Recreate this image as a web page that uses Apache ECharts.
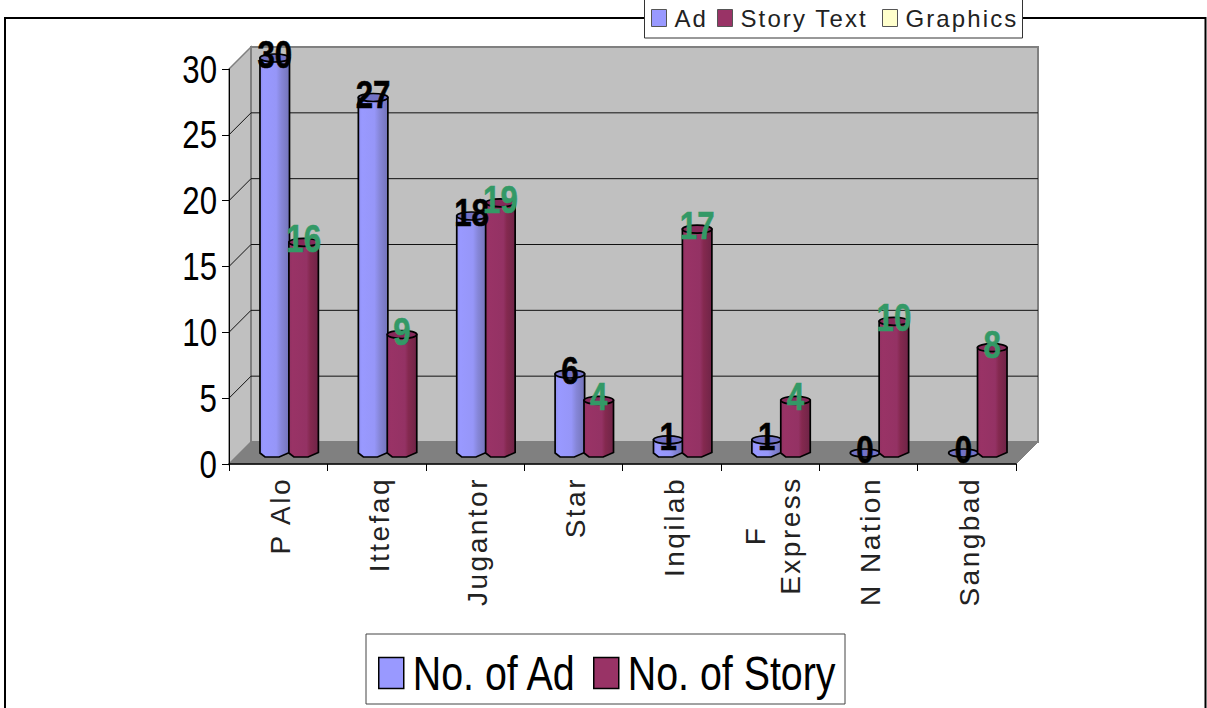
<!DOCTYPE html>
<html>
<head>
<meta charset="utf-8">
<style>
html,body{margin:0;padding:0;background:#fff;overflow:hidden}
#c{width:1207px;height:708px}
svg text[style*="28px"]{letter-spacing:2.5px}
svg text[style*="24px"]{letter-spacing:2.1px}
</style>
<script src="https://cdn.jsdelivr.net/npm/echarts@6/dist/echarts.min.js"></script>
</head>
<body>
<div id="c"></div>
<script>
const categories = ['P Alo','Ittefaq','Jugantor','Star','Inqilab','F\nExpress','N Nation','Sangbad'];
const adValues = [30,27,18,6,1,1,0,0];
const storyValues = [16,9,19,4,17,4,10,8];
const yTicks = [0,5,10,15,20,25,30];
const topLegendNames = ['Ad','Story Text','Graphics'];
const topLegendColors = ['#9999ff','#993366','#ffffcc'];
const bottomLegendNames = ['No. of Ad','No. of Story'];

const chart = echarts.init(document.getElementById('c'), null, {renderer:'svg'});
const DX = 22, DY = 22;     // depth of the 3D box
const BX = 11, BY = 11;     // bars stand mid-depth
const BAR_W = 29.5, RY = 4;
const SANS = '"Liberation Sans",sans-serif';

function renderWalls(params, api){
  const g = params.coordSys;
  const x0=g.x, x1=g.x+g.width, yB=g.y+g.height, yT=g.y;
  const children = [
    {type:'polygon',shape:{points:[[x0,yT],[x0+DX,yT-DY],[x0+DX,yB-DY],[x0,yB]]},style:{fill:'#c0c0c0',stroke:'#808080',lineWidth:1.5}},
    {type:'rect',shape:{x:x0+DX,y:yT-DY,width:g.width,height:g.height},style:{fill:'#c0c0c0',stroke:'#808080',lineWidth:2}},
    {type:'polygon',shape:{points:[[x0,yB],[x1,yB],[x1+DX,yB-DY],[x0+DX,yB-DY]]},style:{fill:'#808080',stroke:'#808080',lineWidth:1}}
  ];
  yTicks.forEach(v=>{
    if(v===0||v===30) return;
    const y = api.coord([0,v])[1];
    children.push({type:'polyline',shape:{points:[[x0,y],[x0+DX,y-DY],[x1+DX,y-DY]]},style:{fill:null,stroke:'#111',lineWidth:1}});
  });
  return {type:'group',children};
}

function makeBar(side, stops, topFill, labelColor){
  return function(params, api){
    const idx = api.value(0), val = api.value(1);
    const base = api.coord([idx,0]), top = api.coord([idx,val]);
    const cx = base[0] + BX + side*BAR_W/2 - side*0.3;
    const w = BAR_W/2;
    const yb = base[1]-BY, yt = top[1]-BY;
    const children = [];
    if(val>0){
      children.push({type:'polygon',
        shape:{points:[[cx-w,yt],[cx-w,yb],[cx-w*0.66,yb+RY],[cx+w*0.3,yb+RY],[cx+w,yb-0.5],[cx+w,yt]]},
        style:{fill:new echarts.graphic.LinearGradient(0,0,1,0,stops),stroke:'#000',lineWidth:1.7}});
    }
    children.push({type:'ellipse',shape:{cx,cy:yt,rx:w,ry:RY},style:{fill:topFill,stroke:'#000',lineWidth:1.7}});
    children.push({type:'text',z2:100,style:{text:String(val),x:cx,y:yt-3.5,align:'center',verticalAlign:'middle',
      font:'bold 39px '+SANS,fill:labelColor,stroke:labelColor,lineWidth:0.6}});
    return {type:'group',children};
  };
}

const adStops=[{offset:0,color:'#8f8ff0'},{offset:.12,color:'#9999ff'},{offset:.55,color:'#9696f8'},{offset:.72,color:'#8686d8'},{offset:1,color:'#7373b8'}];
const storyStops=[{offset:0,color:'#923162'},{offset:.12,color:'#993366'},{offset:.6,color:'#943264'},{offset:.72,color:'#84294f'},{offset:1,color:'#6f2447'}];

const topLeft = [651,717,882];
const bottomLeft = [378,593];

const legends = [];
bottomLegendNames.forEach((n,i)=>legends.push({show:true,left:bottomLeft[i],top:649,data:[n],icon:'rect',
  itemWidth:25,itemHeight:31,padding:0,
  itemStyle:{borderColor:'#000',borderWidth:1.5},
  textStyle:{fontFamily:SANS,fontSize:48,color:'#000',padding:[0,0,0,4]},z:6}));
topLegendNames.forEach((n,i)=>legends.push({show:true,left:topLeft[i],top:6,data:[n],icon:'rect',
  itemWidth:15,itemHeight:17,padding:0,
  itemStyle:{borderColor:'#555',borderWidth:1},
  textStyle:{fontFamily:SANS,fontSize:24,color:'#222',padding:[0,0,0,3]},z:6}));

const option = {
  animation:false,
  backgroundColor:'#fff',
  graphic:[
    {type:'rect',z:-5,silent:true,shape:{x:5,y:18,width:1200.5,height:720},style:{fill:'#fff',stroke:'#000',lineWidth:2}},
    {type:'rect',z:-4,silent:true,shape:{x:644.5,y:-2,width:378,height:40},style:{fill:'#fff',stroke:'#333',lineWidth:1}},
    {type:'rect',z:-4,silent:true,shape:{x:366,y:634,width:479,height:70},style:{fill:'#fff',stroke:'#444',lineWidth:1}}
  ],
  grid:{left:229,top:69,width:787,height:395},
  xAxis:{type:'category',data:categories,z:5,
    axisLine:{lineStyle:{color:'#000',width:1.5}},
    axisTick:{show:true,length:7,alignWithLabel:false,lineStyle:{color:'#000',width:1}},
    axisLabel:{rotate:90,interval:0,margin:13,color:'#222',fontFamily:SANS,fontSize:28,lineHeight:35,padding:[5,0,0,0],
      formatter:v=>v.indexOf('\n')>=0?v.split('\n').map(s=>'{c|'+s+'}').join('\n'):v,
      rich:{c:{width:117,align:'center',fontFamily:SANS,fontSize:28,lineHeight:35,color:'#222'}}}
  },
  yAxis:{type:'value',min:0,max:30,interval:5,z:5,
    axisLine:{show:true,lineStyle:{color:'#000',width:1}},
    axisTick:{show:true,length:7,lineStyle:{color:'#000',width:1}},
    splitLine:{show:false},
    axisLabel:{margin:12,color:'#000',fontFamily:SANS,fontSize:39}
  },
  legend:legends,
  series:[
    {type:'custom',name:'walls',silent:true,z:1,coordinateSystem:'cartesian2d',data:[[0,0]],renderItem:renderWalls,encode:{x:0,y:1}},
    {type:'custom',name:'No. of Ad',z:2,itemStyle:{color:'#9999ff'},coordinateSystem:'cartesian2d',encode:{x:0,y:1},
      data:adValues.map((v,i)=>[i,v]),renderItem:makeBar(-1,adStops,'#7272c6','#000')},
    {type:'custom',name:'No. of Story',z:2,itemStyle:{color:'#993366'},coordinateSystem:'cartesian2d',encode:{x:0,y:1},
      data:storyValues.map((v,i)=>[i,v]),renderItem:makeBar(1,storyStops,'#86295a','#339966')}
  ].concat(topLegendNames.map((n,i)=>({type:'bar',name:n,data:[],itemStyle:{color:topLegendColors[i]}})))
};
chart.setOption(option);

// The reference uses horizontally condensed glyphs: squeeze those texts in place.
function condense(){
  document.querySelectorAll('#c svg text').forEach(t=>{
    const s = t.getAttribute('style')||'';
    const k = s.indexOf('39px')>=0 ? 0.8 : s.indexOf('48px')>=0 ? 0.82 : 0;
    if(!k || t.getAttribute('textLength')) return;
    t.setAttribute('textLength', (t.getComputedTextLength()*k).toFixed(1));
    t.setAttribute('lengthAdjust','spacingAndGlyphs');
  });
}
condense();
chart.on('finished',condense);
</script>
</body>
</html>
